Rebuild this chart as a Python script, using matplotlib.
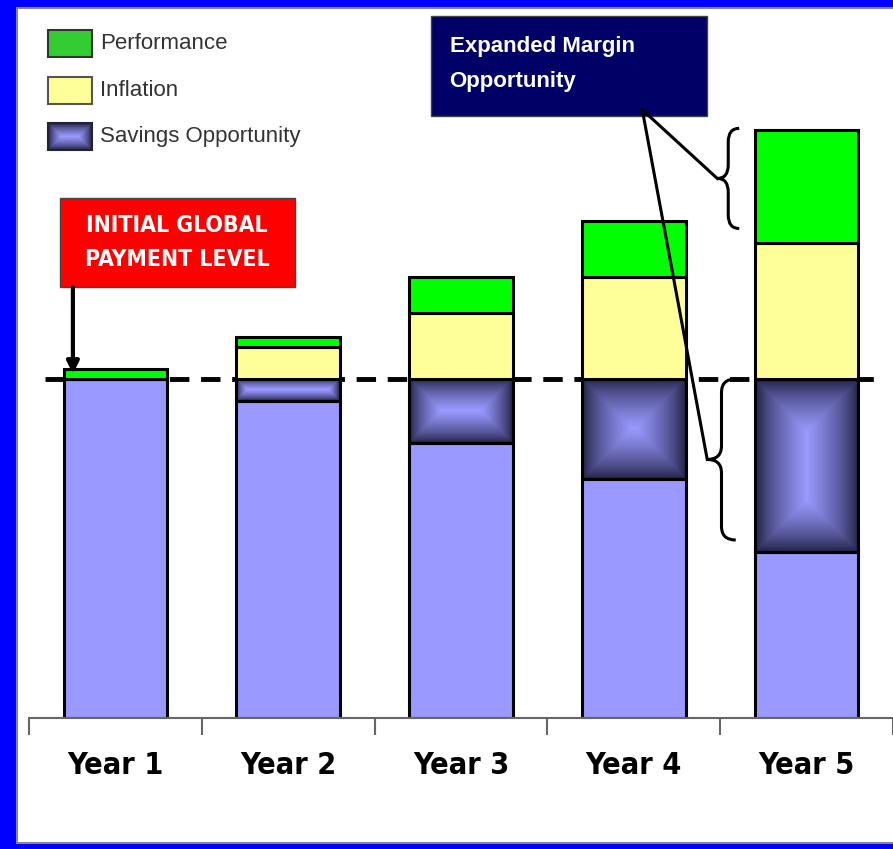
import numpy as np
import matplotlib.pyplot as plt
from matplotlib.patches import Rectangle, PathPatch
from matplotlib.path import Path

years = ["Year 1", "Year 2", "Year 3", "Year 4", "Year 5"]
base = [100, 93.5, 81, 70.5, 49]
savings = [0, 6.5, 19, 29.5, 51]
inflation = [0, 9.5, 19.5, 30, 40]
performance = [3, 3, 10.5, 16.5, 33.5]
initial_level = 100
legend_labels = ["Performance", "Inflation", "Savings Opportunity"]

BASE_C = "#9999FF"
INFL_C = "#FFFF99"
PERF_C = "#00FF00"
LEG_PERF = "#33CC33"
DARK = np.array([0.11, 0.11, 0.24])
LIGHT = np.array([0.6, 0.6, 1.0])
NARROW = ["Liberation Sans Narrow", "DejaVu Sans"]
SANS = ["Liberation Sans", "DejaVu Sans"]


def rect_gradient(w_px, h_px):
    # "rectangle" gradient: dark at the edges, light towards the centre
    nx = max(int(w_px), 2)
    ny = max(int(h_px), 2)
    X, Y = np.meshgrid(np.linspace(0, w_px, nx), np.linspace(0, h_px, ny))
    d = np.minimum(np.minimum(X, w_px - X), np.minimum(Y, h_px - Y))
    t = (d / d.max()) ** 0.7
    return DARK + (LIGHT - DARK) * t[..., None]


def brace(ax, x_tip, x_r, y_bot, y_top, r):
    xm = (x_tip + x_r) / 2
    y_mid = (y_bot + y_top) / 2
    verts = [(x_r, y_top), (xm, y_top), (xm, y_top - r), (xm, y_mid + r),
             (xm, y_mid), (x_tip, y_mid), (xm, y_mid), (xm, y_mid - r),
             (xm, y_bot + r), (xm, y_bot), (x_r, y_bot)]
    codes = [Path.MOVETO, Path.CURVE3, Path.CURVE3, Path.LINETO,
             Path.CURVE3, Path.CURVE3, Path.CURVE3, Path.CURVE3,
             Path.LINETO, Path.CURVE3, Path.CURVE3]
    ax.add_patch(PathPatch(Path(verts, codes), fill=False, lw=2.2,
                           edgecolor="black", clip_on=False, zorder=6))
    return x_tip, y_mid


fig = plt.figure(figsize=(8.93, 8.49), dpi=100)
fig.patch.set_facecolor("#0000FF")
fig.add_artist(Rectangle((17 / 893, 6 / 849), 1.0, 835 / 849, transform=fig.transFigure,
                         facecolor="white", edgecolor="#888888", lw=1.5, zorder=0))

ax = fig.add_axes([29 / 893, 131 / 849, 864 / 893, 708 / 849])
ax.patch.set_visible(False)
ax.set_xlim(-0.5, 4.5)
ax.set_ylim(0, 208.8)

x = np.arange(len(years))
w = 0.6
base_a = np.array(base)
sav_a = np.array(savings)
inf_a = np.array(inflation)
perf_a = np.array(performance)

ax.bar(x, base_a, w, color=BASE_C, edgecolor="black", lw=2.2, zorder=2)
for xi, b, s in zip(x, base_a, sav_a):
    if s <= 0:
        continue
    p0, p1 = ax.transData.transform([(xi - w / 2, b), (xi + w / 2, b + s)])
    grad = rect_gradient(abs(p1[0] - p0[0]), abs(p1[1] - p0[1]))
    ax.imshow(grad, extent=(xi - w / 2, xi + w / 2, b, b + s), origin="lower",
              aspect="auto", interpolation="bilinear", zorder=2.5)
ax.bar(x, sav_a, w, bottom=base_a, facecolor="none", edgecolor="black", lw=2.2, zorder=3)
ax.bar(x, inf_a, w, bottom=base_a + sav_a, color=INFL_C, edgecolor="black", lw=2.2, zorder=3)
ax.bar(x, perf_a, w, bottom=base_a + sav_a + inf_a, color=PERF_C, edgecolor="black",
       lw=2.2, zorder=3)
ax.set_xlim(-0.5, 4.5)
ax.set_ylim(0, 208.8)

# initial global payment level (runs behind the bars)
ax.plot([-0.41, 4.39], [initial_level, initial_level], color="black", lw=3.5,
        dashes=(4, 2.4), zorder=1)

# axis styling
for side in ["top", "left", "right"]:
    ax.spines[side].set_visible(False)
ax.spines["bottom"].set_color("#666666")
ax.spines["bottom"].set_linewidth(1.5)
ax.set_yticks([])
ax.set_xticks(x)
ax.set_xticklabels(years, fontfamily=NARROW, fontstretch="condensed", fontweight="bold",
                   fontsize=22)
ax.set_xticks(np.arange(len(years) + 1) - 0.5, minor=True)
ax.tick_params(axis="x", which="major", length=0, pad=24)
ax.tick_params(axis="x", which="minor", length=12, width=1.5, color="#666666",
               direction="out")

# red callout
ax.add_patch(Rectangle((-0.321, 127.1), 1.359, 26.3, facecolor="#FF0000",
                       edgecolor="#444444", lw=1, clip_on=False, zorder=5))
ax.text(0.358, 140.2, "INITIAL GLOBAL\nPAYMENT LEVEL", color="white", fontweight="bold",
        fontfamily=NARROW, fontstretch="condensed", fontsize=16.5, ha="center",
        va="center", linespacing=1.6, zorder=6)
ax.annotate("", xy=(-0.246, initial_level + 1.5), xytext=(-0.246, 127.1),
            arrowprops=dict(arrowstyle="-|>", lw=3, color="black", mutation_scale=18,
                            shrinkA=0, shrinkB=0), zorder=6)

# expanded margin callout
ax.add_patch(Rectangle((1.824, 177.6), 1.601, 29.5, facecolor="#000066",
                       edgecolor="#444444", lw=1, clip_on=False, zorder=5))
ax.text(1.934, 198.0, "Expanded Margin", color="white", fontweight="bold",
        fontfamily=SANS, fontsize=16, ha="left", va="center", zorder=6)
ax.text(1.934, 187.6, "Opportunity", color="white", fontweight="bold",
        fontfamily=SANS, fontsize=16, ha="left", va="center", zorder=6)

last = len(years) - 1
bar_left = x[last] - w / 2
top_total = base_a[last] + sav_a[last] + inf_a[last] + perf_a[last]
tip_up = brace(ax, bar_left - 0.217, bar_left - 0.09, top_total - 0.87 * perf_a[last],
               top_total + 0.4, 4)
tip_low = brace(ax, bar_left - 0.275, bar_left - 0.11, base_a[last] + 3.5,
                initial_level, 4)
src = (3.049, 179.4)
for tip in [tip_up, tip_low]:
    ax.plot([src[0], tip[0]], [src[1], tip[1]], color="black", lw=2.2,
            clip_on=False, zorder=6)

# legend drawn in pixel space
lax = fig.add_axes([0, 0, 1, 1])
lax.set_xlim(0, 893)
lax.set_ylim(849, 0)
lax.axis("off")
lax.patch.set_visible(False)
lax.add_patch(Rectangle((48, 30), 44, 27, facecolor=LEG_PERF, edgecolor="#333333", lw=1.5))
lax.add_patch(Rectangle((48, 77), 44, 27, facecolor=INFL_C, edgecolor="#555555", lw=1.5))
lax.imshow(rect_gradient(44, 27), extent=(48, 92, 150, 123), origin="lower",
           aspect="auto", interpolation="bilinear")
lax.add_patch(Rectangle((48, 123), 44, 27, facecolor="none", edgecolor="#222233", lw=1.5))
for label, ty in zip(legend_labels, [43, 90, 136]):
    lax.text(100, ty, label, fontsize=16, color="#333333", fontfamily=SANS,
             ha="left", va="center")
lax.set_xlim(0, 893)
lax.set_ylim(849, 0)

fig.savefig("out.png", dpi=100, facecolor=fig.get_facecolor())
